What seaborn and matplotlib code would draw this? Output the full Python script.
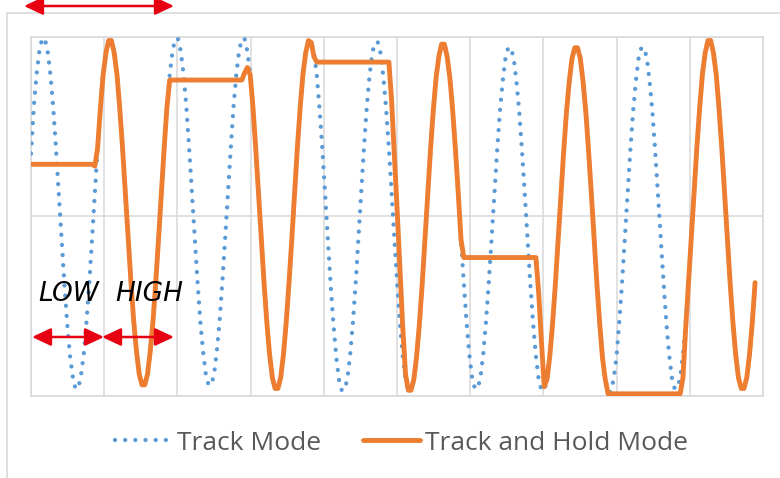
import numpy as np
import pandas as pd
import matplotlib
matplotlib.use("Agg")
import matplotlib.pyplot as plt
import seaborn as sns
from matplotlib.patches import FancyArrowPatch, Rectangle

# time step between samples (one grid division = 1 time unit)
DT = 0.0379

# input signal (Track Mode), one row per sine period
track_mode = [
    0.35, 0.61, 0.79, 0.92, 0.99, 0.99, 0.92, 0.79, 0.61, 0.38, 0.13, -0.13,
    -0.37, -0.59, -0.77, -0.89, -0.96, -0.96, -0.89, -0.77, -0.59, -0.37, -0.13, 0.13,
    0.38, 0.60, 0.79, 0.91, 0.98, 0.98, 0.91, 0.79, 0.60, 0.38, 0.13, -0.12,
    -0.36, -0.58, -0.75, -0.88, -0.94, -0.94, -0.88, -0.75, -0.58, -0.36, -0.12, 0.13,
    0.38, 0.61, 0.79, 0.92, 0.99, 0.99, 0.92, 0.79, 0.61, 0.38, 0.13, -0.12,
    -0.36, -0.58, -0.75, -0.88, -0.94, -0.94, -0.88, -0.75, -0.58, -0.36, -0.12, 0.13,
    0.38, 0.61, 0.79, 0.92, 0.99, 0.99, 0.92, 0.79, 0.61, 0.38, 0.13, -0.13,
    -0.37, -0.59, -0.77, -0.90, -0.96, -0.96, -0.90, -0.77, -0.59, -0.37, -0.13, 0.13,
    0.38, 0.60, 0.79, 0.91, 0.98, 0.98, 0.91, 0.79, 0.60, 0.38, 0.13, -0.13,
    -0.38, -0.60, -0.78, -0.91, -0.97, -0.97, -0.91, -0.78, -0.60, -0.38, -0.13, 0.13,
    0.38, 0.60, 0.78, 0.91, 0.97, 0.97, 0.91, 0.78, 0.60, 0.38, 0.13, -0.13,
    -0.38, -0.60, -0.78, -0.91, -0.97, -0.97, -0.91, -0.78, -0.60, -0.38, -0.13, 0.13,
    0.37, 0.59, 0.77, 0.89, 0.96, 0.96, 0.89, 0.77, 0.59, 0.37, 0.13, -0.13,
    -0.37, -0.59, -0.77, -0.90, -0.96, -0.96, -0.90, -0.77, -0.59, -0.37, -0.13, 0.12,
    0.36, 0.58, 0.75, 0.88, 0.94, 0.94, 0.88, 0.75, 0.58, 0.36, 0.12, -0.13,
    -0.38, -0.60, -0.78, -0.91, -0.97, -0.97, -0.91, -0.78, -0.60, -0.38, -0.13, 0.12,
    0.36, 0.58, 0.75, 0.88, 0.94, 0.94, 0.88, 0.75, 0.58, 0.36, 0.12, -0.13,
    -0.38, -0.60, -0.79, -0.91, -0.98, -0.98, -0.91, -0.79, -0.60, -0.38, -0.13, 0.12,
    0.36, 0.58, 0.75, 0.88, 0.94, 0.94, 0.88, 0.75, 0.58, 0.36, 0.12, -0.13,
    -0.37, -0.59, -0.77, -0.90, -0.96, -0.96, -0.90, -0.77, -0.59, -0.37, -0.13, 0.13,
    0.38, 0.60, 0.79, 0.91, 0.98, 0.98, 0.91, 0.79, 0.60, 0.38, 0.13, -0.13,
    -0.37, -0.59, -0.77, -0.90, -0.96, -0.96, -0.90, -0.77, -0.59, -0.37,
]

# output of the track and hold stage
track_hold = [
    # hold (LOW)
    0.29, 0.29, 0.29, 0.29, 0.29, 0.29, 0.29, 0.29, 0.29, 0.29, 0.29, 0.29,
    0.29, 0.29, 0.29, 0.29, 0.29, 0.29, 0.29, 0.29, 0.29, 0.29, 0.29, 0.28,
    # track (HIGH)
    0.38, 0.60, 0.79, 0.91, 0.98, 0.98, 0.91, 0.79, 0.60, 0.38, 0.13, -0.12,
    -0.36, -0.58, -0.75, -0.88, -0.94, -0.94, -0.88, -0.75, -0.58, -0.36, -0.12, 0.13,
    0.38, 0.61,
    # hold
    0.76, 0.76, 0.76, 0.76, 0.76, 0.76, 0.76, 0.76, 0.76, 0.76, 0.76, 0.76, 0.76, 0.76,
    0.76, 0.76, 0.76, 0.76, 0.76, 0.76, 0.76, 0.76, 0.76, 0.76, 0.76, 0.76, 0.76,
    # track
    0.80, 0.83, 0.79, 0.61, 0.38, 0.13, -0.13, -0.37, -0.59, -0.77, -0.90, -0.96,
    -0.96, -0.90, -0.77, -0.59, -0.37, -0.13, 0.13, 0.38, 0.60, 0.79, 0.91, 0.98,
    0.97, 0.89,
    # hold
    0.86, 0.86, 0.86, 0.86, 0.86, 0.86, 0.86, 0.86, 0.86, 0.86, 0.86, 0.86, 0.86, 0.86,
    0.86, 0.86, 0.86, 0.86, 0.86, 0.86, 0.86, 0.86, 0.86, 0.86, 0.86, 0.86, 0.86,
    # track
    0.64, 0.34, 0.03, -0.30, -0.62, -0.88, -0.97, -0.97, -0.91, -0.78, -0.60, -0.38,
    -0.13, 0.13, 0.37, 0.59, 0.77, 0.89, 0.96, 0.96, 0.89, 0.77, 0.59, 0.37,
    0.13, -0.13,
    # hold
    -0.23, -0.23, -0.23, -0.23, -0.23, -0.23, -0.23, -0.23, -0.23, -0.23, -0.23, -0.23,
    -0.23, -0.23, -0.23, -0.23, -0.23, -0.23, -0.23, -0.23, -0.23, -0.23, -0.23, -0.23,
    -0.23, -0.23, -0.23,
    # track
    -0.43, -0.70, -0.95, -0.91, -0.78, -0.60, -0.38, -0.13, 0.12, 0.36, 0.58, 0.75,
    0.88, 0.94, 0.94, 0.88, 0.75, 0.58, 0.36, 0.12, -0.13, -0.38, -0.60, -0.79,
    -0.91,
    # hold
    -0.99, -0.99, -0.99, -0.99, -0.99, -0.99, -0.99, -0.99, -0.99, -0.99, -0.99, -0.99,
    -0.99, -0.99, -0.99, -0.99, -0.99, -0.99, -0.99, -0.99, -0.99, -0.99, -0.99, -0.99,
    -0.99, -0.99, -0.99,
    # track
    -0.90, -0.62, -0.37, -0.13, 0.13,
    0.38, 0.60, 0.79, 0.91, 0.98, 0.98, 0.91, 0.79, 0.60, 0.38, 0.13, -0.13,
    -0.37, -0.59, -0.77, -0.90, -0.96, -0.96, -0.90, -0.77, -0.59, -0.37,
]

BLUE = "#5B9BD5"
ORANGE = "#ED7D31"
GRID = "#D9D9D9"
RED = "#E60012"

t = np.arange(len(track_mode)) * DT
df = pd.DataFrame({
    "t": np.concatenate([t, t]),
    "value": track_mode + track_hold,
    "series": ["Track Mode"] * len(t) + ["Track and Hold Mode"] * len(t),
})

sns.set_theme(style="white")
plt.rcParams["font.family"] = ["Open Sans", "DejaVu Sans"]

fig = plt.figure(figsize=(7.8, 4.78), dpi=100)
W, H = 780, 478

# chart area border (runs off the right and bottom of the picture)
fig.patches.append(Rectangle((7 / W, -0.1), 1.2, 1.1 - 13 / H,
                             transform=fig.transFigure, fill=False, ec=GRID, lw=1.2))

ax = fig.add_axes([31 / W, 1 - 395.6 / H, 732 / W, 358.6 / H])

sns.lineplot(data=df[df["series"] == "Track Mode"], x="t", y="value", ax=ax,
             color=BLUE, lw=3.1, linestyle=(0, (0.01, 2.35)), dash_capstyle="round",
             estimator=None, sort=False, label="Track Mode", legend=False, zorder=3)
sns.lineplot(data=df[df["series"] == "Track and Hold Mode"], x="t", y="value", ax=ax,
             color=ORANGE, lw=3.5, solid_capstyle="round", solid_joinstyle="round",
             estimator=None, sort=False, label="Track and Hold Mode", legend=False, zorder=4)

ax.set_xlim(0, 10)
ax.set_ylim(-1, 1)
ax.set_xticks(range(11))
ax.set_yticks([-1, 0, 1])
ax.grid(True, color=GRID, lw=1.1)
ax.set_axisbelow(True)
ax.tick_params(length=0, labelbottom=False, labelleft=False)
ax.set_xlabel("")
ax.set_ylabel("")
for s in ax.spines.values():
    s.set_color(GRID)
    s.set_linewidth(1.1)

handles = [l for l in ax.get_lines() if l.get_label() in ("Track Mode", "Track and Hold Mode")]
fig.legend(handles, ["Track Mode", "Track and Hold Mode"], loc="center",
           bbox_to_anchor=(401.5 / W, 1 - 443 / H), ncol=2, frameon=False,
           prop={"family": "Open Sans", "size": 19}, labelcolor="#595959",
           handlelength=2.14, handletextpad=0.19, columnspacing=1.6,
           borderpad=0, borderaxespad=0)

# LOW / HIGH annotations
for txt, x in [("LOW", 38), ("HIGH", 115)]:
    fig.text(x / W, 1 - 301 / H, txt, fontsize=19, style="italic",
             family="DejaVu Sans", color="black", va="baseline", ha="left")


def arrow(x0, x1, y):
    a = FancyArrowPatch((x0 / W, 1 - y / H), (x1 / W, 1 - y / H),
                        transform=fig.transFigure,
                        arrowstyle="<|-|>,head_length=11.5,head_width=5.4",
                        mutation_scale=1, shrinkA=0, shrinkB=0,
                        color=RED, lw=1.8, zorder=10)
    fig.patches.append(a)


arrow(24, 174, 6)
arrow(32, 104, 337)
arrow(102, 174, 337)

fig.savefig("out.png", dpi=100)
